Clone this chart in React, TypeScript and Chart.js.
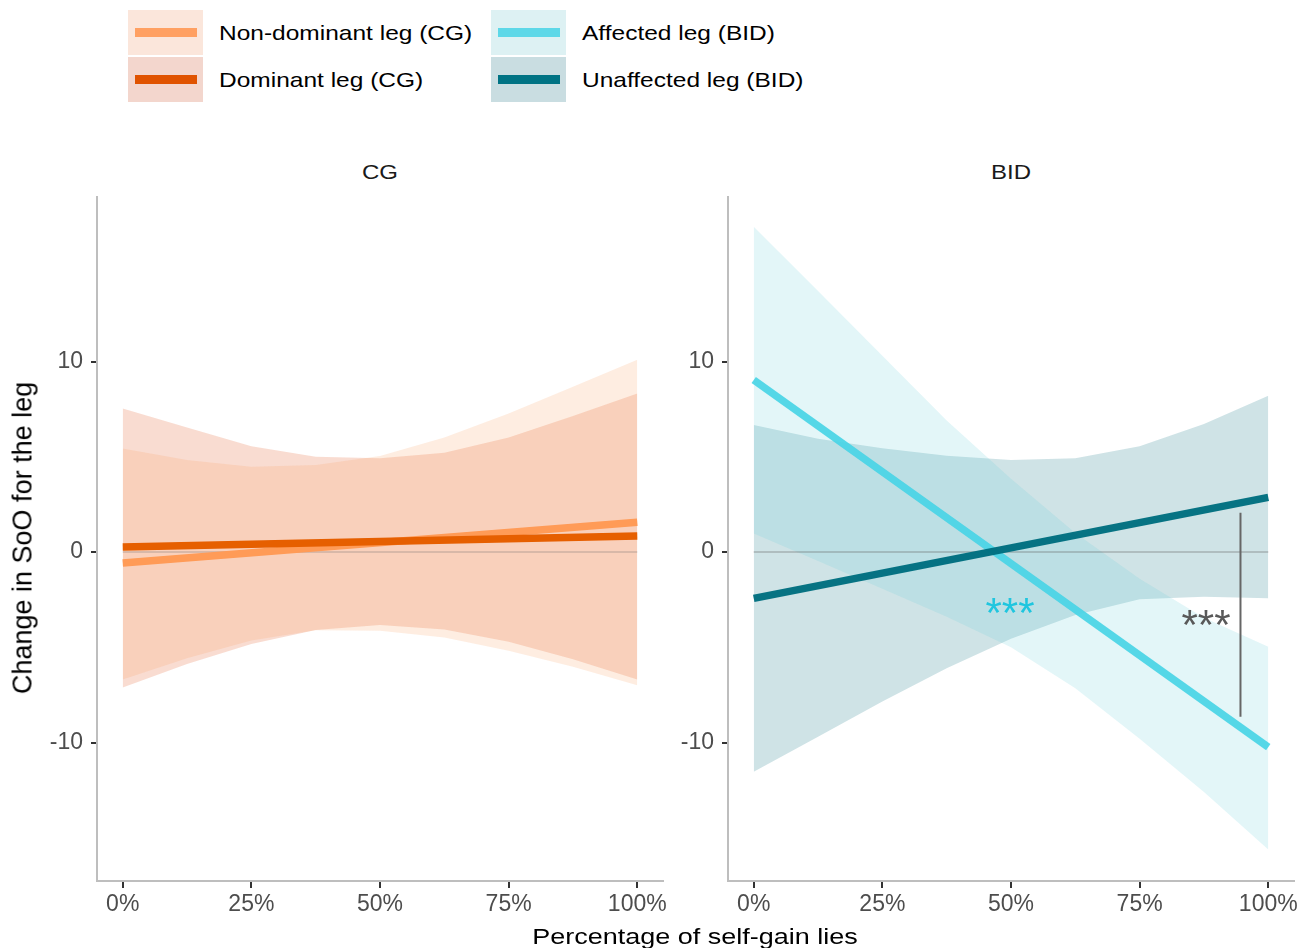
import React, { useEffect, useRef } from "react";
import { Chart, registerables } from "chart.js";

Chart.register(...registerables);

const FONT = '"Liberation Sans", Arial, Helvetica, sans-serif';

// ---------- data ----------
const xGrid = [0, 0.125, 0.25, 0.375, 0.5, 0.625, 0.75, 0.875, 1];
const lineX = [0, 1];
const xTickValues = [0, 0.25, 0.5, 0.75, 1];
const xTickLabels = ["0%", "25%", "50%", "75%", "100%"];
const yTickValues = [-10, 0, 10];
const yTickLabels = ["-10", "0", "10"];
const yMin = -17.27;
const yMax = 18.64;

// CG panel
const nonDomUpper = [5.44, 4.83, 4.48, 4.57, 5.04, 6.02, 7.28, 8.68, 10.1];
const nonDomLower = [-6.69, -5.58, -4.65, -4.11, -4.13, -4.48, -5.18, -6.02, -6.99];
const domUpper = [7.54, 6.54, 5.56, 5.0, 4.92, 5.21, 6.02, 7.14, 8.33];
const domLower = [-7.11, -5.88, -4.83, -4.09, -3.83, -4.06, -4.71, -5.63, -6.69];
const nonDomLine = [-0.58, 1.57];
const domLine = [0.27, 0.84];

// BID panel
const affUpper = [17.08, 13.7, 10.3, 6.9, 3.85, 1.0, -1.4, -3.45, -4.97];
const affLower = [0.98, -0.47, -1.93, -3.4, -5.0, -7.15, -9.8, -12.6, -15.62];
const unaffUpper = [6.67, 5.95, 5.45, 5.05, 4.83, 4.93, 5.56, 6.72, 8.2];
const unaffLower = [-11.53, -9.7, -7.85, -6.1, -4.55, -3.3, -2.48, -2.35, -2.43];
const affLine = [9.03, -10.24];
const unaffLine = [-2.43, 2.87];

// annotations (BID)
const bracketX = [0.946, 0.946];
const bracketY = [2.06, -8.65];
const starTexts = ["***", "***"];
const starX = [0.498, 0.879];
const starY = [-2.66, -3.3];
const starColors = ["#1FC6DF", "#595959"];

const zeroLine = [0, 0];

const panelTitles = ["CG", "BID"];
const legendLabels = [
  "Non-dominant leg (CG)",
  "Dominant leg (CG)",
  "Affected leg (BID)",
  "Unaffected leg (BID)",
];
const legendLineColors = ["#FFA062", "#E05300", "#5DD8E8", "#007384"];
const legendKeyBgs = ["#FBE6DB", "#F3D6CD", "#DDF1F3", "#C9DDE1"];

// ---------- helpers ----------
const pts = (xs: number[], ys: number[]) => xs.map((x, i) => ({ x, y: ys[i] }));

function ribbon(up: number[], lo: number[], fill: string, order: number) {
  return [
    {
      data: pts(xGrid, up),
      fill: "+1",
      backgroundColor: fill,
      borderColor: "transparent",
      borderWidth: 0,
      pointRadius: 0,
      order,
    },
    {
      data: pts(xGrid, lo),
      fill: false,
      borderColor: "transparent",
      borderWidth: 0,
      pointRadius: 0,
      order,
    },
  ];
}

function lineDs(xs: number[], ys: number[], color: string, width: number, order: number) {
  return {
    data: pts(xs, ys),
    fill: false,
    borderColor: color,
    borderWidth: width,
    pointRadius: 0,
    borderCapStyle: "butt",
    order,
  };
}

function makeStarPlugin(items: { text: string; x: number; y: number; color: string }[]) {
  return {
    id: "stars",
    afterDatasetsDraw(chart: any) {
      const { ctx, scales } = chart;
      const size = 42;
      ctx.save();
      ctx.font = `${size}px ${FONT}`;
      ctx.textAlign = "center";
      ctx.textBaseline = "alphabetic";
      items.forEach((it) => {
        ctx.fillStyle = it.color;
        ctx.fillText(
          it.text,
          scales.x.getPixelForValue(it.x),
          scales.y.getPixelForValue(it.y) + size * 0.575
        );
      });
      ctx.restore();
    },
  };
}

function panelOptions(yAxisWidth: number, padRight: number, padTop: number, xAxisHeight: number) {
  const tickFont = { family: FONT, size: 23 };
  return {
    animation: false,
    responsive: false,
    maintainAspectRatio: false,
    layout: { padding: { top: padTop, right: padRight, left: 0, bottom: 0 } },
    plugins: { legend: { display: false }, tooltip: { enabled: false } },
    elements: { line: { tension: 0 }, point: { radius: 0 } },
    scales: {
      x: {
        type: "linear",
        min: -0.05,
        max: 1.05,
        afterBuildTicks: (s: any) => {
          s.ticks = xTickValues.map((v) => ({ value: v }));
        },
        afterFit: (s: any) => {
          s.height = xAxisHeight;
        },
        ticks: {
          callback: (_v: any, i: number) => xTickLabels[i],
          font: tickFont,
          color: "#4D4D4D",
          padding: 3,
          maxRotation: 0,
          autoSkip: false,
        },
        grid: {
          display: true,
          drawOnChartArea: false,
          drawTicks: true,
          tickLength: 7,
          color: "#333333",
          lineWidth: 2,
        },
        border: { display: true, color: "#BEBEBE", width: 2 },
      },
      y: {
        type: "linear",
        min: yMin,
        max: yMax,
        afterBuildTicks: (s: any) => {
          s.ticks = yTickValues.map((v) => ({ value: v }));
        },
        afterFit: (s: any) => {
          s.width = yAxisWidth;
        },
        ticks: {
          callback: (_v: any, i: number) => yTickLabels[i],
          font: tickFont,
          color: "#4D4D4D",
          padding: 8,
          autoSkip: false,
        },
        grid: {
          display: true,
          drawOnChartArea: false,
          drawTicks: true,
          tickLength: 6,
          color: "#333333",
          lineWidth: 2,
        },
        border: { display: true, color: "#BEBEBE", width: 2 },
      },
    },
  };
}

function Panel(props: {
  left: number;
  top: number;
  width: number;
  height: number;
  yAxisWidth: number;
  padRight: number;
  padTop: number;
  xAxisHeight: number;
  datasets: any[];
  stars: { text: string; x: number; y: number; color: string }[];
}) {
  const ref = useRef<HTMLCanvasElement>(null);
  useEffect(() => {
    if (!ref.current) return;
    const chart = new Chart(ref.current, {
      type: "line",
      data: { datasets: props.datasets },
      options: panelOptions(props.yAxisWidth, props.padRight, props.padTop, props.xAxisHeight) as any,
      plugins: [makeStarPlugin(props.stars) as any],
    });
    return () => chart.destroy();
  }, []);
  return (
    <canvas
      ref={ref}
      width={props.width}
      height={props.height}
      style={{
        position: "absolute",
        left: props.left,
        top: props.top,
        width: props.width,
        height: props.height,
      }}
    />
  );
}

const textBase: React.CSSProperties = {
  position: "absolute",
  fontFamily: FONT,
  whiteSpace: "nowrap",
  lineHeight: 1,
  color: "#000",
};

export default function App() {
  const cgDatasets = [
    ...ribbon(nonDomUpper, nonDomLower, "rgba(249,155,88,0.18)", 10),
    ...ribbon(domUpper, domLower, "rgba(228,88,40,0.21)", 10),
    lineDs(lineX, zeroLine, "rgba(100,100,100,0.22)", 2, 5),
    lineDs(lineX, nonDomLine, "#FF9B57", 7.5, 2),
    lineDs(lineX, domLine, "#E65F00", 7.5, 1),
  ];
  const bidDatasets = [
    ...ribbon(affUpper, affLower, "rgba(100,205,216,0.18)", 10),
    ...ribbon(unaffUpper, unaffLower, "rgba(15,115,130,0.2)", 10),
    lineDs(lineX, zeroLine, "rgba(100,100,100,0.3)", 2, 5),
    lineDs(lineX, affLine, "rgba(70,212,230,0.9)", 7.5, 2),
    lineDs(lineX, unaffLine, "rgba(0,112,128,0.97)", 7.5, 1),
    lineDs(bracketX, bracketY, "#666666", 2, 0),
  ];
  const stars = starTexts.map((t, i) => ({ text: t, x: starX[i], y: starY[i], color: starColors[i] }));

  const legendCols = [128, 491];
  const legendRows = [10, 57];

  return (
    <div
      style={{
        position: "absolute",
        left: 0,
        top: 0,
        width: 1301,
        height: 948,
        overflow: "hidden",
        background: "#fff",
      }}
    >
      {/* legend */}
      {legendLabels.map((lab, i) => {
        const col = Math.floor(i / 2);
        const row = i % 2;
        const x = legendCols[col];
        const y = legendRows[row];
        return (
          <React.Fragment key={lab}>
            <div
              style={{
                position: "absolute",
                left: x,
                top: y,
                width: 75,
                height: 45,
                background: legendKeyBgs[i],
              }}
            />
            <div
              style={{
                position: "absolute",
                left: x + 7,
                top: y + 18,
                width: 62,
                height: 9,
                background: legendLineColors[i],
              }}
            />
            <div
              style={{
                ...textBase,
                left: x + 91,
                top: y + 22.5,
                fontSize: 24.5,
                transform: "translateY(-50%) scaleY(0.84)",
                transformOrigin: "left center",
              }}
            >
              {lab}
            </div>
          </React.Fragment>
        );
      })}

      {/* strip titles */}
      {panelTitles.map((t, i) => (
        <div
          key={t}
          style={{
            ...textBase,
            left: i === 0 ? 380 : 1011,
            top: 172,
            fontSize: 24,
            color: "#1A1A1A",
            transform: "translate(-50%, -50%) scaleY(0.84)",
          }}
        >
          {t}
        </div>
      ))}

      <Panel
        left={0}
        top={160}
        width={680}
        height={788}
        yAxisWidth={97}
        padRight={17}
        padTop={37}
        xAxisHeight={67}
        datasets={cgDatasets}
        stars={[]}
      />
      <Panel
        left={640}
        top={160}
        width={661}
        height={788}
        yAxisWidth={88}
        padRight={7}
        padTop={37}
        xAxisHeight={67}
        datasets={bidDatasets}
        stars={stars}
      />

      {/* axis titles */}
      <div
        style={{
          ...textBase,
          left: 695,
          top: 937,
          fontSize: 27,
          transform: "translate(-50%, -50%) scaleY(0.8)",
        }}
      >
        Percentage of self-gain lies
      </div>
      <div
        style={{
          ...textBase,
          left: 23,
          top: 538,
          fontSize: 27,
          transform: "translate(-50%, -50%) rotate(-90deg)",
        }}
      >
        Change in SoO for the leg
      </div>
    </div>
  );
}
